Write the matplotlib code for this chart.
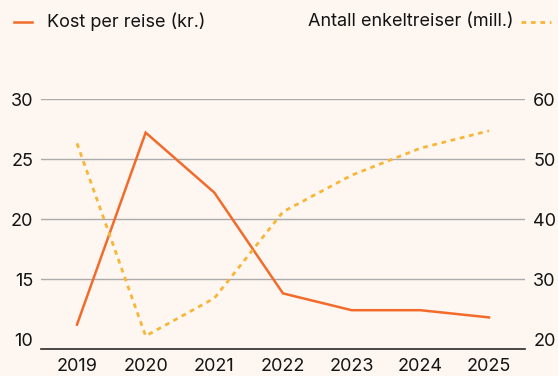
import matplotlib
matplotlib.use("Agg")
import matplotlib.pyplot as plt
from matplotlib.lines import Line2D

# Data
years = [2019, 2020, 2021, 2022, 2023, 2024, 2025]
cost_per_trip = [11.2, 27.2, 22.2, 13.8, 12.4, 12.4, 11.8]      # kr.
single_trips = [52.6, 20.5, 26.8, 41.2, 47.3, 51.8, 54.7]      # mill.
left_ticks = [10, 15, 20, 25, 30]
right_ticks = [20, 30, 40, 50, 60]
label_cost = "Kost per reise (kr.)"
label_trips = "Antall enkeltreiser (mill.)"

BG = "#fdf6f1"
ORANGE = "#f26b2b"
YELLOW = "#f8b638"
GRID = "#ababab"
TEXT = "#141414"

plt.rcParams["font.family"] = ["Inter", "DejaVu Sans"]

W, H = 558, 376
fig = plt.figure(figsize=(W / 100, H / 100), dpi=100, facecolor=BG)

x0, x1, ytop, ybot = 41, 525, 99, 349
ax = fig.add_axes([x0 / W, (H - ybot) / H, (x1 - x0) / W, (ybot - ytop) / H])
ax.set_facecolor(BG)
ax2 = ax.twinx()

pad_x = 0.524
ax.set_xlim(years[0] - pad_x, years[-1] + pad_x)
ax.set_ylim(10 - 10 / 12, 30)
ax2.set_ylim(20 - 10 / 6, 60)

for y in left_ticks[1:]:
    ax.axhline(y, color=GRID, lw=1.0, zorder=1)

for a in (ax, ax2):
    for s in ("top", "left", "right"):
        a.spines[s].set_visible(False)
ax2.spines["bottom"].set_visible(False)
ax.spines["bottom"].set_color("#2a2a2a")
ax.spines["bottom"].set_linewidth(1.2)

ax.set_xticks(years)
ax.set_xticklabels([str(y) for y in years])
ax.set_yticks(left_ticks)
ax2.set_yticks(right_ticks)
ax.tick_params(axis="x", length=0, pad=6.5, labelsize=13, colors=TEXT)
ax.tick_params(axis="y", length=0, pad=5.5, labelsize=13, colors=TEXT)
ax2.tick_params(axis="y", length=0, pad=6, labelsize=13, colors=TEXT)

ax.plot(years, cost_per_trip, color=ORANGE, lw=1.8, solid_joinstyle="miter", zorder=3)
ax2.plot(years, single_trips, color=YELLOW, lw=2.0, dashes=(1.7, 1.7),
         dash_capstyle="butt", zorder=3)

# Legend row above the plot
ly = 1 - 22 / H
fig.add_artist(Line2D([14 / W, 32 / W], [ly, ly], color=ORANGE, lw=1.8))
fig.text(47 / W, ly, label_cost, fontsize=13, color=TEXT, va="center", ha="left")
fig.text(514 / W, ly, label_trips, fontsize=13, color=TEXT, va="center", ha="right")
fig.add_artist(Line2D([521 / W, 551 / W], [ly, ly], color=YELLOW, lw=2.0,
                      dashes=(1.7, 1.7), dash_capstyle="butt"))

fig.savefig("out.png", dpi=100, facecolor=BG)
